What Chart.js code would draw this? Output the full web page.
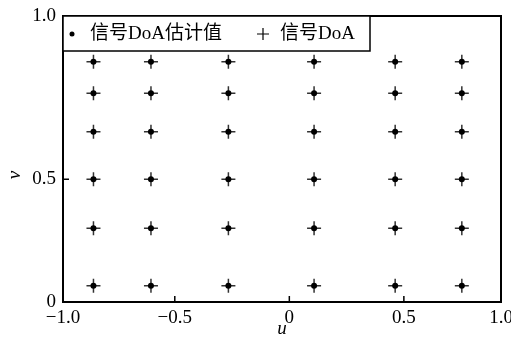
<!DOCTYPE html>
<html>
<head>
<meta charset="utf-8">
<script src="https://cdn.jsdelivr.net/npm/chart.js@4"></script>
<style>
    html, body { margin: 0; padding: 0; background: #fff; }
    #wrap { width: 511px; height: 340px; }
</style>
</head>
<body>
<div id="wrap"><canvas id="doaChart" width="511" height="340"></canvas></div>
<script>
// Source grid (u across, v up)
const trueU = [-0.855, -0.604, -0.266, 0.108, 0.462, 0.753];
const trueV = [0.066, 0.300, 0.500, 0.694, 0.850, 0.979];
// Estimates land on the true positions
const estU = [-0.855, -0.604, -0.266, 0.108, 0.462, 0.753];
const estV = [0.066, 0.300, 0.500, 0.694, 0.850, 0.979];

// Axis ticks as printed on the figure
const xTickValues = [-0.988, -0.5, 0, 0.5, 0.924];
const xTickLabels = ['\u22121.0', '\u22120.5', '0', '0.5', '1.0'];
const yTickValues = [0, 0.5, 1.165];
const yTickLabels = ['0', '0.5', '1.0'];

const seriesLabels = ['信号DoA估计值', '信号DoA'];

const SERIF = '"Liberation Serif", "Noto Sans CJK SC", serif';

function gridPoints(us, vs) {
    const pts = [];
    vs.forEach(v => us.forEach(u => pts.push({ x: u, y: v })));
    return pts;
}

// frame, inward ticks and the v label
const framePlugin = {
    id: 'frame',
    afterDraw(chart) {
        const { ctx, chartArea: a, scales } = chart;
        ctx.save();
        ctx.strokeStyle = '#000';
        ctx.lineWidth = 2;
        ctx.strokeRect(a.left, a.top, a.right - a.left, a.bottom - a.top);

        ctx.lineWidth = 1.5;
        ctx.beginPath();
        xTickValues.slice(1, -1).forEach(v => {
            const px = scales.x.getPixelForValue(v);
            ctx.moveTo(px, a.bottom);
            ctx.lineTo(px, a.bottom - 6);
        });
        yTickValues.slice(1, -1).forEach(v => {
            const py = scales.y.getPixelForValue(v);
            ctx.moveTo(a.left, py);
            ctx.lineTo(a.left + 6, py);
        });
        ctx.stroke();

        ctx.translate(15, 175);
        ctx.rotate(-Math.PI / 2);
        ctx.fillStyle = '#000';
        ctx.font = 'italic 19px ' + SERIF;
        ctx.textAlign = 'center';
        ctx.textBaseline = 'middle';
        ctx.fillText('v', 0, 0);
        ctx.restore();
    }
};

// boxed legend in the top-left corner of the plot
const legendPlugin = {
    id: 'boxLegend',
    afterDraw(chart) {
        const { ctx, chartArea: a } = chart;
        const ds = chart.data.datasets;
        const boxW = 307, boxH = 35, midY = a.top + 18;
        ctx.save();
        ctx.fillStyle = '#fff';
        ctx.fillRect(a.left, a.top, boxW, boxH);
        ctx.strokeStyle = '#000';
        ctx.lineWidth = 1.5;
        ctx.strokeRect(a.left, a.top, boxW, boxH);

        ctx.fillStyle = '#000';
        ctx.beginPath();
        ctx.arc(a.left + 9, midY, 2.5, 0, Math.PI * 2);
        ctx.fill();

        ctx.lineWidth = 1.2;
        ctx.beginPath();
        ctx.moveTo(a.left + 194, midY);
        ctx.lineTo(a.left + 206, midY);
        ctx.moveTo(a.left + 200, midY - 6);
        ctx.lineTo(a.left + 200, midY + 6);
        ctx.stroke();

        ctx.font = '19px ' + SERIF;
        ctx.textBaseline = 'middle';
        ctx.fillText(ds[0].label, a.left + 27, midY);
        ctx.fillText(ds[1].label, a.left + 217, midY);
        ctx.restore();
    }
};

const ctx = document.getElementById('doaChart').getContext('2d');
new Chart(ctx, {
    type: 'scatter',
    data: {
        datasets: [{
            label: seriesLabels[0],
            data: gridPoints(estU, estV),
            pointStyle: 'circle',
            pointRadius: 3,
            backgroundColor: '#000',
            borderColor: '#000',
            borderWidth: 0,
            order: 0
        }, {
            label: seriesLabels[1],
            data: gridPoints(trueU, trueV),
            pointStyle: 'cross',
            pointRadius: 7,
            borderColor: '#333',
            borderWidth: 1.5,
            order: 1
        }]
    },
    options: {
        responsive: false,
        animation: false,
        devicePixelRatio: 1,
        layout: { padding: { top: 16, right: 10, left: 0, bottom: 0 } },
        plugins: {
            legend: { display: false },
            tooltip: { enabled: false }
        },
        scales: {
            x: {
                type: 'linear',
                min: xTickValues[0],
                max: xTickValues[xTickValues.length - 1],
                afterBuildTicks: s => { s.ticks = xTickValues.map(v => ({ value: v })); },
                afterFit: s => { s.height = 38; s.paddingLeft = 0; s.paddingRight = 0; },
                grid: { display: false, drawTicks: false },
                border: { display: false },
                ticks: {
                    callback: (v, i) => xTickLabels[i],
                    autoSkip: false,
                    maxRotation: 0,
                    padding: 5,
                    color: '#000',
                    font: { family: SERIF, size: 19 }
                },
                title: {
                    display: true,
                    text: 'u',
                    color: '#000',
                    padding: 0,
                    font: { family: SERIF, size: 19, style: 'italic' }
                }
            },
            y: {
                type: 'linear',
                min: yTickValues[0],
                max: yTickValues[yTickValues.length - 1],
                afterBuildTicks: s => { s.ticks = yTickValues.map(v => ({ value: v })); },
                afterFit: s => { s.width = 63; s.paddingTop = 0; s.paddingBottom = 0; },
                grid: { display: false, drawTicks: false },
                border: { display: false },
                ticks: {
                    callback: (v, i) => yTickLabels[i],
                    autoSkip: false,
                    padding: 7,
                    color: '#000',
                    font: { family: SERIF, size: 19 }
                }
            }
        }
    },
    plugins: [framePlugin, legendPlugin]
});
</script>
</body>
</html>
